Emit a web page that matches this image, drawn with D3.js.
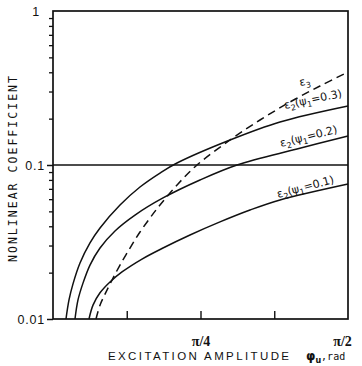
<!DOCTYPE html>
<html>
<head>
<meta charset="utf-8">
<script src="https://cdn.jsdelivr.net/npm/d3@7"></script>
<style>
  body { margin: 0; background: #fff; }
  svg { display: block; }
</style>
</head>
<body>
<div id="chart"></div>
<script>
// values (x in rad, y nonlinear coefficient)
const psi03X = [0.0692, 0.0852, 0.1065, 0.1438, 0.1970, 0.2503, 0.3568, 0.4632, 0.5697, 0.6603, 0.9425, 1.2087, 1.5708];
const psi03Y = [0.0100, 0.0133, 0.0169, 0.0231, 0.0312, 0.0390, 0.0550, 0.0720, 0.0887, 0.1030, 0.1453, 0.1902, 0.2416];

const psi02X = [0.1171, 0.1331, 0.1597, 0.1970, 0.2503, 0.3301, 0.4366, 0.5857, 0.7827, 0.9797, 1.2992, 1.5708];
const psi02Y = [0.0100, 0.0133, 0.0171, 0.0224, 0.0289, 0.0373, 0.0473, 0.0611, 0.0799, 0.1000, 0.1270, 0.1543];

const psi01X = [0.1917, 0.2130, 0.2503, 0.3035, 0.3674, 0.4739, 0.5857, 0.7295, 0.8892, 1.0490, 1.2087, 1.5708];
const psi01Y = [0.0100, 0.0123, 0.0148, 0.0174, 0.0202, 0.0245, 0.0289, 0.0351, 0.0427, 0.0510, 0.0593, 0.0753];

const eps3X = [0.2290, 0.2503, 0.2769, 0.3142, 0.3568, 0.4100, 0.4632, 0.5165, 0.5697, 0.6656, 0.7668, 0.9425, 1.1022, 1.2620, 1.4217, 1.5708];
const eps3Y = [0.0100, 0.0123, 0.0145, 0.0179, 0.0224, 0.0289, 0.0367, 0.0453, 0.0550, 0.0753, 0.1000, 0.1453, 0.1960, 0.2565, 0.3258, 0.4017];

const yMajor = [0.01, 0.1, 1];
const yMajorLabels = ["0.01", "0.1", "1"];
const xTicks = [Math.PI / 8, Math.PI / 4, 3 * Math.PI / 8, Math.PI / 2];
const xTickLabels = ["", "\u03c0/4", "", "\u03c0/2"];

const W = 362, H = 366;
const margin = { top: 11, right: 14, bottom: 47, left: 53 };
const width = W - margin.left - margin.right;
const height = H - margin.top - margin.bottom;

const svg = d3.select("#chart").append("svg")
  .attr("width", W)
  .attr("height", H);

const g = svg.append("g")
  .attr("transform", "translate(" + margin.left + "," + margin.top + ")");

const x = d3.scaleLinear().domain([0, Math.PI / 2]).range([0, width]);
const y = d3.scaleLog().domain([0.01, 1]).range([height, 0]);

// minor log ticks 2..9 per decade
const yMinor = [];
[0.01, 0.1].forEach(d => { for (let k = 2; k <= 9; k++) yMinor.push(d * k); });

g.append("g")
  .attr("class", "y minor")
  .call(d3.axisLeft(y).tickValues(yMinor).tickSize(4).tickFormat(""))
  .call(s => s.select(".domain").remove());

g.append("g")
  .attr("class", "y major")
  .call(d3.axisLeft(y).tickValues(yMajor).tickSize(6).tickPadding(2)
    .tickFormat((d, i) => yMajorLabels[i]))
  .call(s => s.select(".domain").remove())
  .call(s => s.selectAll("text")
    .style("font-family", "'Liberation Sans', Arial, sans-serif")
    .style("font-size", "12.5px")
    .style("letter-spacing", "0.8px")
    .style("fill", "#111"));
g.selectAll(".y.major line").attr("stroke", "#111").attr("stroke-width", 1.5);
g.selectAll(".y.minor line").attr("stroke", "#111").attr("stroke-width", 1.3);
// "1" sits a little further left, without its tick
g.selectAll(".y.major .tick").filter(d => d === 1).select("line").remove();
g.selectAll(".y.major .tick").filter(d => d === 1).select("text").attr("x", -13);

// x ticks drawn inward
g.append("g")
  .attr("class", "x axis")
  .attr("transform", "translate(0," + height + ")")
  .call(d3.axisBottom(x).tickValues(xTicks).tickSize(-8).tickPadding(17)
    .tickFormat((d, i) => xTickLabels[i]))
  .call(s => s.select(".domain").remove())
  .call(s => s.selectAll("line").attr("stroke", "#111").attr("stroke-width", 1.4))
  .call(s => s.selectAll("text")
    .style("font-family", "'Liberation Serif', 'Times New Roman', serif")
    .style("font-weight", "bold")
    .style("font-size", "14px")
    .style("fill", "#111"));
g.selectAll(".x.axis .tick").filter(d => d === Math.PI / 2).select("line").remove();
g.selectAll(".x.axis .tick").filter(d => d === Math.PI / 2).select("text").attr("x", -6);

// gridline at 0.1
g.append("line")
  .attr("x1", 0).attr("x2", width)
  .attr("y1", y(0.1)).attr("y2", y(0.1))
  .attr("stroke", "#111").attr("stroke-width", 1.3);

// frame
g.append("rect")
  .attr("x", 0).attr("y", 0)
  .attr("width", width).attr("height", height)
  .attr("fill", "none")
  .attr("stroke", "#111")
  .attr("stroke-width", 1.7);

const line = d3.line()
  .x(d => x(d[0]))
  .y(d => y(d[1]))
  .curve(d3.curveCatmullRom.alpha(0.5));

const series = [
  { xs: psi03X, ys: psi03Y, dash: null },
  { xs: psi02X, ys: psi02Y, dash: null },
  { xs: psi01X, ys: psi01Y, dash: null },
  { xs: eps3X, ys: eps3Y, dash: "8,5" }
];

series.forEach(s => {
  g.append("path")
    .datum(s.xs.map((v, i) => [v, s.ys[i]]))
    .attr("d", line)
    .attr("fill", "none")
    .attr("stroke", "#111")
    .attr("stroke-width", 1.5)
    .attr("stroke-dasharray", s.dash);
});

// curve labels
function curveLabel(px, py, angle, main, sub, rest, sub2, tail) {
  const t = svg.append("text")
    .attr("transform", "translate(" + px + "," + py + ") rotate(" + angle + ")")
    .style("font-family", "'DejaVu Sans', sans-serif")
    .style("font-size", "11px")
    .style("fill", "#111");
  t.append("tspan").text(main);
  t.append("tspan").attr("dy", 3).style("font-size", "8px").text(sub);
  if (rest) {
    t.append("tspan").attr("dy", -3).text(rest);
    t.append("tspan").attr("dy", 3).style("font-size", "8px").text(sub2);
    t.append("tspan").attr("dy", -3).text(tail);
  }
}
curveLabel(300, 86, -10, "\u03b5", "3");
curveLabel(285, 109, -12, "\u03b5", "2", "(\u03c8", "1", "=0.3)");
curveLabel(281, 147, -14, "\u03b5", "2", "(\u03c8", "1", "=0.2)");
curveLabel(278, 198, -15, "\u03b5", "2", "(\u03c8", "1", "=0.1)");

// axis titles
svg.append("text")
  .attr("transform", "translate(17,262) rotate(-90)")
  .attr("textLength", 186)
  .attr("lengthAdjust", "spacing")
  .style("font-family", "'DejaVu Sans Mono', monospace")
  .style("font-size", "11.5px")
  .style("fill", "#111")
  .text("NONLINEAR COEFFICIENT");

svg.append("text")
  .attr("x", 108).attr("y", 360)
  .attr("textLength", 181)
  .attr("lengthAdjust", "spacing")
  .style("font-family", "'Liberation Sans', Arial, sans-serif")
  .style("font-size", "11.5px")
  .style("fill", "#111")
  .text("EXCITATION AMPLITUDE");

const xt = svg.append("text")
  .attr("x", 306).attr("y", 360)
  .style("fill", "#111");
xt.append("tspan")
  .style("font-family", "'DejaVu Sans', sans-serif")
  .style("font-weight", "bold")
  .style("font-size", "12px")
  .text("\u03c6");
xt.append("tspan").attr("dy", 3)
  .style("font-family", "'DejaVu Sans', sans-serif")
  .style("font-weight", "bold")
  .style("font-size", "8px")
  .text("u");
xt.append("tspan").attr("dy", -3)
  .style("font-family", "'DejaVu Sans Mono', monospace")
  .style("font-size", "10px")
  .text(",rad");
</script>
</body>
</html>
